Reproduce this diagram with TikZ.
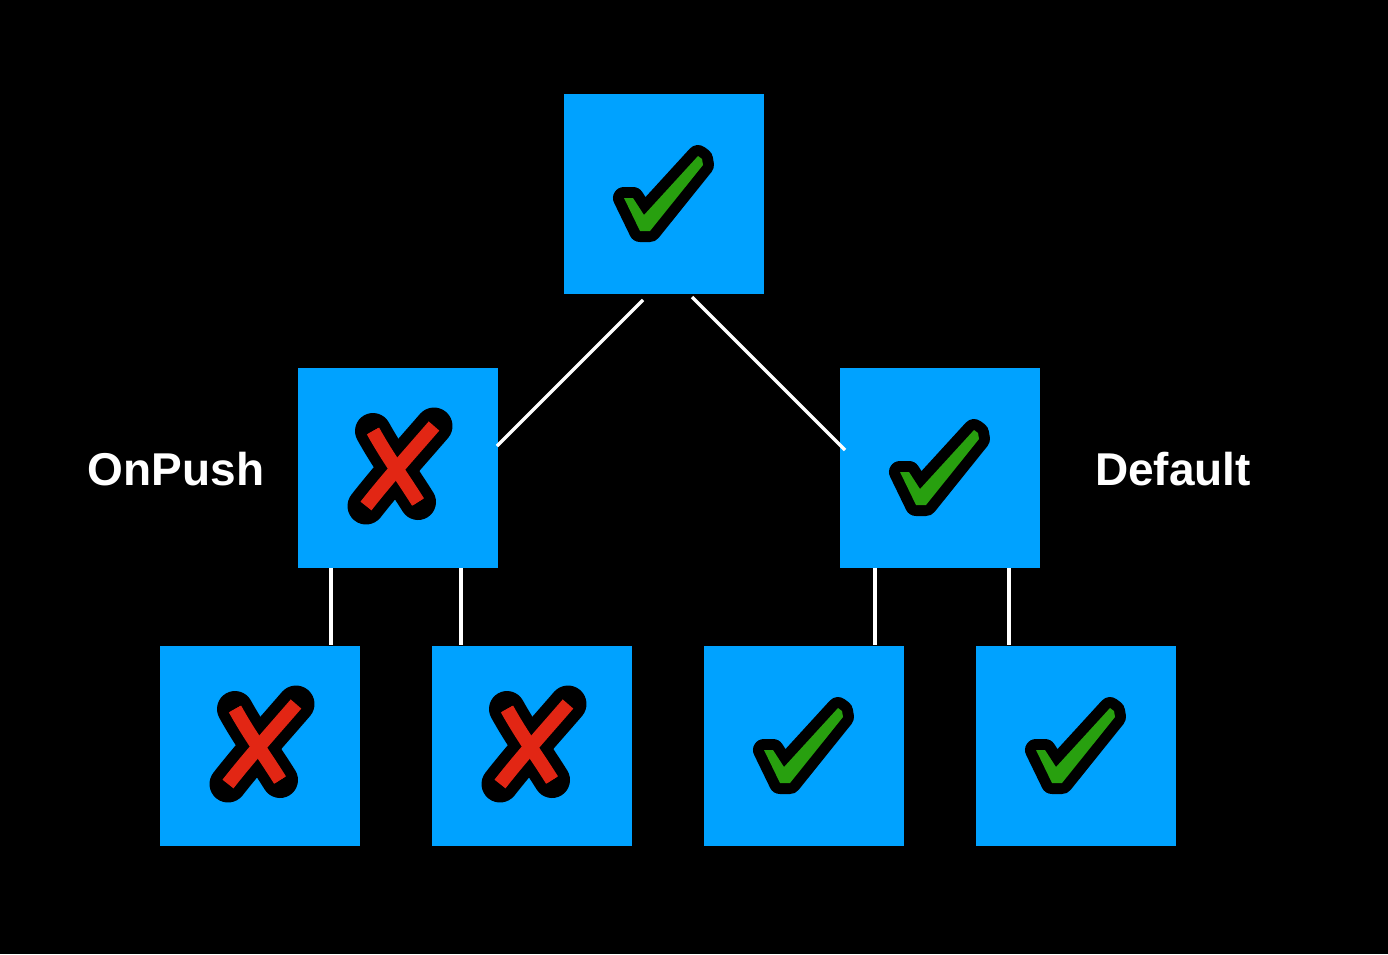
\documentclass[tikz,border=0pt]{standalone}
\usepackage{fontspec}
\setmainfont{Liberation Sans}
\definecolor{boxblue}{RGB}{0,162,255}
\definecolor{okgreen}{RGB}{40,160,15}
\definecolor{nored}{RGB}{226,38,20}
\tikzset{
  tbox/.style={fill=boxblue, draw=none, minimum width=200pt, minimum height=200pt, inner sep=0pt, outer sep=0pt},
  conn/.style={draw=white, line width=3.5pt},
  lbl/.style={text=white, font=\bfseries\fontsize{46}{46}\selectfont, inner sep=0pt, anchor=base},
  pics/tick/.style={code={
    \path[draw=black, fill=black, line width=22pt, line join=round]
      (-40,4) -- (-31,4) -- (-20,21) -- (34,-38) -- (38,-35) -- (39,-29) -- (-14,37) -- (-24,37) -- cycle;
    \path[fill=okgreen]
      (-40,4) -- (-31,4) -- (-20,21) -- (34,-38) -- (38,-35) -- (39,-29) -- (-14,37) -- (-24,37) -- cycle;
  }},
  pics/cross/.style={code={
    \draw[black, line width=36pt, line cap=round] (-25,-37) .. controls (-10,-10) and (5,10) .. (20,34);
    \draw[black, line width=37pt, line cap=round] (36,-42) .. controls (10,-12) and (-10,10) .. (-32,38);
    \draw[nored, line width=14pt] (-25,-37) .. controls (-10,-10) and (5,10) .. (20,34);
    \draw[nored, line width=14pt] (36,-42) .. controls (10,-12) and (-10,10) .. (-32,38);
    \draw[nored, line width=12pt] (-25,-37) .. controls (-10,-10) and (5,10) .. (20,34);
  }}
}
\begin{document}
\begin{tikzpicture}[x=1pt,y=-1pt]
\fill[black] (0,0) rectangle (1388,954);
\useasboundingbox (0,0) rectangle (1388,954);

\node[tbox] (top) at (664,194) {};
\node[tbox] (ml) at (398,468) {};
\node[tbox] (mr) at (940,468) {};
\node[tbox] (b1) at (260,746) {};
\node[tbox] (b2) at (532,746) {};
\node[tbox] (b3) at (804,746) {};
\node[tbox] (b4) at (1076,746) {};

\pic at (top) {tick};
\pic at (mr) {tick};
\pic at (b3) {tick};
\pic at (b4) {tick};
\pic at (ml) {cross};
\pic at (b1) {cross};
\pic at (b2) {cross};

\coordinate (tl) at (643,300);
\coordinate (tr) at (692,297);
\coordinate (mle) at (497,446);
\coordinate (mrw) at (845,450);
\coordinate (ml1) at (331,568);
\coordinate (ml2) at (461,568);
\coordinate (mr1) at (875,568);
\coordinate (mr2) at (1009,568);
\coordinate (b1t) at (331,645);
\coordinate (b2t) at (461,645);
\coordinate (b3t) at (875,645);
\coordinate (b4t) at (1009,645);

\draw[conn] (tl) -- (mle);
\draw[conn] (tr) -- (mrw);
\draw[conn] (ml1) -- (b1t);
\draw[conn] (ml2) -- (b2t);
\draw[conn] (mr1) -- (b3t);
\draw[conn] (mr2) -- (b4t);

\node[lbl] (onpush) at (176,485) {OnPush};
\node[lbl] (default) at (1173,485) {Default};
\end{tikzpicture}
\end{document}
